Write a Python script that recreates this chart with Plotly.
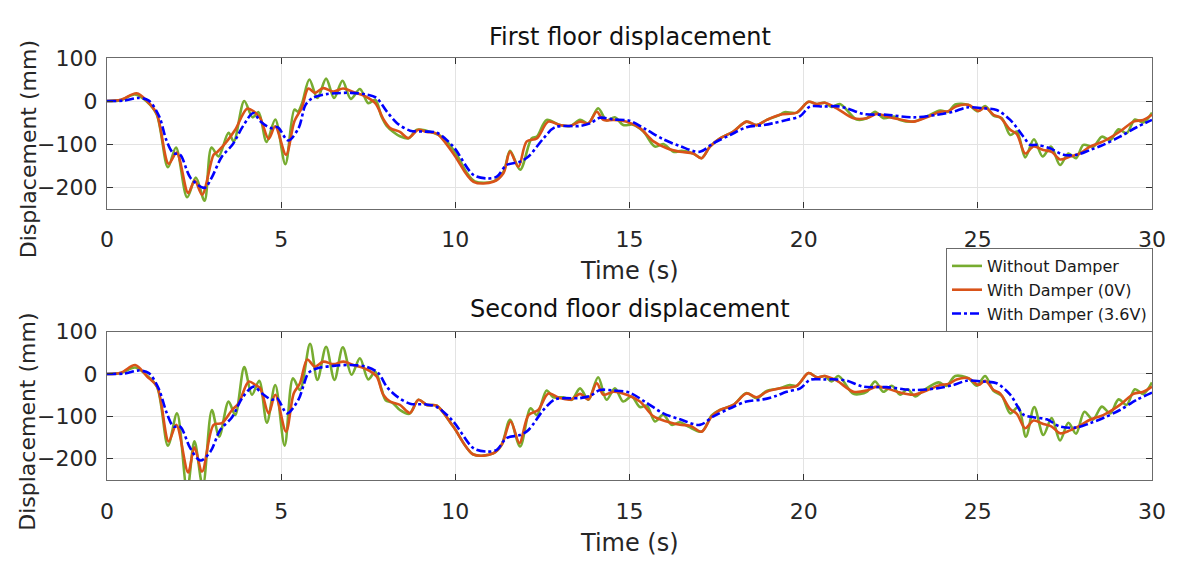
import plotly.graph_objects as go

# ---------------- data (time in s, displacement in mm) ----------------
# First floor
t1_without = [0, 0.4, 0.8, 1.15, 1.43, 1.75, 1.98, 2.3, 2.55, 2.8, 3.0, 3.2, 3.49, 3.64, 3.94, 4.18, 4.35, 4.58, 4.83, 5.12, 5.38, 5.48, 5.6, 5.81, 6.04, 6.29, 6.52, 6.76, 7.0, 7.26, 7.5, 7.7, 7.88, 8.03, 8.22, 8.41, 8.65, 8.9, 9.37, 9.66, 10.04, 10.33, 10.56, 11.09, 11.38, 11.57, 11.86, 12.19, 12.35, 12.62, 13.0, 13.3, 13.58, 13.82, 14.1, 14.34, 14.58, 14.82, 15.1, 15.4, 15.73, 15.97, 16.26, 16.5, 16.83, 17.07, 17.31, 17.6, 17.98, 18.36, 18.65, 18.94, 19.32, 19.45, 19.8, 20.14, 20.38, 20.61, 20.8, 21.04, 21.52, 21.81, 22.05, 22.29, 22.6, 22.77, 23.15, 23.53, 23.92, 24.15, 24.35, 24.73, 25.0, 25.21, 25.45, 25.69, 25.93, 26.12, 26.36, 26.61, 26.86, 27.1, 27.36, 27.6, 27.82, 28.03, 28.32, 28.56, 28.8, 29.04, 29.27, 29.51, 29.75, 30]
d1_without = [0, 2, 15, -2, -32, -154, -108, -224, -178, -232, -108, -129, -74, -94, 0, -38, -26, -95, -43, -147, -20, -25, -5, 50, 7, 52, 7, 47, 5, 28, -5, 3, -36, -58, -72, -82, -87, -67, -74, -86, -125, -167, -187, -187, -165, -116, -160, -87, -82, -44, -56, -58, -44, -52, -17, -45, -38, -56, -55, -71, -106, -100, -118, -116, -122, -133, -106, -87, -71, -48, -56, -44, -32, -26, -27, -2, -7, -4, -14, -7, -43, -40, -25, -40, -36, -44, -48, -36, -22, -25, -8, -9, -24, -12, -34, -40, -79, -71, -131, -89, -129, -106, -149, -122, -133, -102, -106, -83, -91, -66, -75, -43, -50, -27]

t1_damper0 = [0, 0.4, 0.85, 1.15, 1.43, 1.77, 2.0, 2.33, 2.52, 2.73, 3.06, 3.16, 3.44, 3.68, 4.02, 4.21, 4.4, 4.64, 4.83, 5.14, 5.38, 5.59, 5.78, 5.97, 6.21, 6.5, 6.78, 7.07, 7.41, 7.7, 7.94, 8.13, 8.41, 8.65, 8.94, 9.18, 9.47, 9.94, 10.52, 11.09, 11.38, 11.57, 11.81, 12.05, 12.34, 12.67, 13.0, 13.29, 13.58, 13.82, 14.06, 14.25, 14.54, 14.92, 15.3, 15.69, 16.07, 16.45, 16.83, 17.07, 17.31, 17.6, 17.98, 18.36, 18.65, 18.94, 19.32, 19.8, 20.14, 20.38, 20.61, 20.95, 21.43, 21.81, 22.1, 22.38, 22.77, 23.15, 23.53, 23.92, 24.15, 24.39, 24.73, 25.02, 25.21, 25.45, 25.64, 25.93, 26.12, 26.36, 26.6, 26.88, 27.12, 27.36, 27.65, 27.93, 28.22, 28.6, 29.08, 29.47, 29.75, 30]
d1_damper0 = [0, 3, 18, 0, -30, -146, -120, -214, -185, -218, -125, -119, -94, -67, -18, -24, -40, -88, -59, -125, -47, -16, 29, 19, 30, 22, 29, 21, 11, -5, -43, -63, -72, -86, -67, -72, -76, -122, -188, -188, -168, -118, -153, -94, -87, -48, -56, -58, -48, -52, -25, -44, -44, -48, -63, -94, -110, -118, -122, -133, -106, -87, -71, -48, -56, -44, -32, -27, -2, -7, -4, -17, -40, -40, -30, -36, -43, -48, -38, -25, -24, -12, -9, -23, -15, -32, -38, -67, -77, -122, -106, -114, -118, -136, -129, -122, -106, -94, -71, -48, -44, -32]

t1_damper36 = [0, 0.5, 0.9, 1.2, 1.5, 1.7, 1.9, 2.1, 2.4, 2.8, 3.0, 3.3, 3.6, 3.9, 4.2, 4.4, 4.7, 4.9, 5.2, 5.5, 5.7, 5.9, 6.3, 7.0, 7.45, 7.74, 8.03, 8.32, 8.7, 9.1, 9.47, 9.94, 10.52, 10.9, 11.19, 11.47, 11.86, 12.1, 12.53, 12.86, 13.58, 13.87, 14.15, 14.54, 15.0, 15.49, 15.97, 16.45, 17.02, 17.41, 17.89, 18.36, 18.84, 19.1, 19.51, 19.9, 20.18, 20.57, 20.95, 21.24, 21.71, 22.38, 23.15, 23.82, 24.3, 24.68, 25.16, 25.54, 25.93, 26.31, 26.5, 26.69, 27.07, 27.46, 27.84, 28.22, 28.6, 29.08, 29.56, 30]
d1_damper36 = [0, 1, 7, 1, -36, -90, -121, -125, -179, -202, -179, -129, -102, -59, -28, -47, -63, -61, -92, -63, -9, 7, 16, 19, 15, 7, -24, -51, -69, -71, -74, -106, -172, -180, -176, -149, -141, -129, -87, -61, -58, -52, -39, -43, -46, -67, -89, -105, -118, -98, -79, -61, -56, -52, -44, -35, -13, -13, -12, -17, -30, -32, -38, -32, -25, -15, -17, -21, -44, -83, -102, -102, -110, -125, -125, -114, -102, -83, -61, -44]

# Second floor
t2_without = [0, 0.4, 0.81, 1.15, 1.44, 1.75, 2.01, 2.3, 2.51, 2.75, 3.01, 3.22, 3.49, 3.68, 3.94, 4.16, 4.37, 4.59, 4.83, 5.1, 5.34, 5.54, 5.83, 6.04, 6.29, 6.53, 6.77, 7.02, 7.26, 7.5, 7.7, 7.89, 8.0, 8.2, 8.41, 8.68, 8.94, 9.18, 9.47, 9.94, 10.52, 11.09, 11.33, 11.57, 11.86, 12.16, 12.34, 12.62, 12.81, 13.1, 13.34, 13.58, 13.82, 14.1, 14.34, 14.58, 14.82, 15.06, 15.3, 15.5, 15.73, 15.97, 16.21, 16.45, 16.69, 17.07, 17.36, 17.6, 17.98, 18.36, 18.65, 18.94, 19.32, 19.6, 19.8, 20.14, 20.38, 20.61, 20.8, 21.0, 21.43, 21.81, 22.05, 22.29, 22.53, 22.77, 22.98, 23.2, 23.44, 23.87, 24.1, 24.35, 24.73, 24.97, 25.21, 25.45, 25.69, 25.93, 26.16, 26.38, 26.62, 26.88, 27.12, 27.36, 27.6, 27.82, 28.06, 28.3, 28.56, 28.8, 29.04, 29.27, 29.51, 29.75, 30]
d2_without = [0, 2, 15, -4, -31, -169, -93, -275, -159, -265, -85, -148, -65, -97, 16, -49, -16, -115, -26, -169, -10, -38, 71, -14, 64, -14, 63, -2, 37, -13, 5, -38, -62, -68, -85, -94, -61, -73, -75, -124, -190, -187, -167, -108, -171, -81, -97, -39, -55, -55, -61, -34, -61, -8, -61, -34, -65, -53, -78, -75, -112, -96, -120, -114, -124, -136, -98, -85, -73, -45, -57, -40, -34, -26, -28, 2, -8, -5, -18, -5, -47, -42, -18, -42, -28, -49, -36, -53, -39, -20, -28, -5, -10, -28, -5, -40, -52, -93, -78, -148, -78, -144, -104, -157, -115, -141, -89, -108, -77, -93, -60, -73, -36, -47, -20]

t2_damper0 = [0, 0.4, 0.81, 1.15, 1.44, 1.77, 1.99, 2.33, 2.51, 2.73, 3.06, 3.3, 3.59, 3.78, 4.07, 4.26, 4.4, 4.64, 4.83, 5.14, 5.36, 5.54, 5.75, 5.97, 6.21, 6.5, 6.79, 7.07, 7.45, 7.74, 7.93, 8.13, 8.41, 8.7, 8.94, 9.18, 9.47, 9.94, 10.52, 11.09, 11.33, 11.59, 11.84, 12.1, 12.38, 12.67, 13.0, 13.34, 13.58, 13.82, 14.06, 14.25, 14.54, 14.92, 15.3, 15.69, 16.07, 16.45, 16.74, 17.07, 17.36, 17.6, 17.98, 18.36, 18.65, 18.94, 19.32, 19.8, 20.14, 20.38, 20.61, 20.95, 21.43, 21.81, 22.1, 22.38, 22.77, 23.15, 23.53, 23.92, 24.15, 24.39, 24.73, 25.02, 25.21, 25.45, 25.64, 25.93, 26.12, 26.36, 26.6, 26.88, 27.12, 27.36, 27.65, 27.93, 28.22, 28.6, 29.08, 29.47, 29.75, 30]
d2_damper0 = [0, 3, 21, -6, -30, -159, -120, -232, -173, -230, -120, -116, -85, -69, -18, -26, -34, -93, -49, -136, -46, -22, 34, 17, 29, 23, 29, 21, 11, -6, -49, -65, -73, -92, -61, -73, -75, -124, -190, -187, -167, -112, -163, -97, -85, -46, -57, -60, -47, -60, -22, -49, -42, -49, -65, -100, -112, -120, -122, -136, -100, -85, -73, -46, -55, -42, -34, -28, 2, -8, -5, -16, -42, -39, -30, -34, -44, -49, -39, -26, -24, -13, -10, -26, -16, -38, -46, -83, -94, -128, -110, -118, -124, -140, -133, -122, -108, -97, -73, -47, -42, -30]

t2_damper36 = [0, 0.5, 0.91, 1.2, 1.48, 1.72, 1.91, 2.1, 2.39, 2.68, 2.97, 3.25, 3.59, 3.88, 4.21, 4.45, 4.74, 4.88, 5.17, 5.5, 5.65, 5.78, 6.02, 6.5, 6.98, 7.45, 7.79, 8.03, 8.32, 8.7, 9.17, 9.47, 9.94, 10.52, 10.9, 11.19, 11.47, 11.86, 12.1, 12.53, 12.86, 13.58, 13.87, 14.15, 14.54, 15.0, 15.49, 15.97, 16.45, 17.02, 17.41, 17.89, 18.36, 18.84, 19.2, 19.51, 19.9, 20.18, 20.57, 20.95, 21.24, 21.71, 22.38, 23.15, 23.82, 24.3, 24.68, 25.16, 25.54, 25.93, 26.31, 26.6, 26.98, 27.36, 27.84, 28.22, 28.6, 29.08, 29.56, 30]
d2_damper36 = [0, 1, 8, 2, -34, -93, -124, -124, -175, -204, -183, -132, -102, -57, -30, -46, -61, -57, -93, -60, -25, 2, 13, 19, 21, 17, 2, -30, -53, -70, -72, -78, -112, -175, -183, -179, -151, -144, -132, -85, -60, -57, -52, -38, -39, -44, -68, -93, -107, -120, -100, -81, -65, -60, -52, -42, -34, -14, -13, -13, -16, -30, -31, -38, -34, -26, -16, -18, -22, -49, -96, -102, -107, -124, -126, -116, -104, -85, -61, -44]

series_names = ["Without Damper", "With Damper (0V)", "With Damper (3.6V)"]
subplot_titles = ["First floor displacement", "Second floor displacement"]
x_ticks = [0, 5, 10, 15, 20, 25, 30]
y_ticks = [-200, -100, 0, 100]

# ---------------- styles ----------------
colors = ["#77AC30", "#D95319", "#0000FF"]
dashes = ["solid", "solid", "dashdot"]
widths = [2.6, 2.6, 2.6]
FONT = "DejaVu Sans, Liberation Sans, Arial, sans-serif"
W, H = 1179, 563

fig = go.Figure()
floors = [
    [(t1_without, d1_without), (t1_damper0, d1_damper0), (t1_damper36, d1_damper36)],
    [(t2_without, d2_without), (t2_damper0, d2_damper0), (t2_damper36, d2_damper36)],
]
for fi, floor in enumerate(floors):
    xa = "x" if fi == 0 else "x2"
    ya = "y" if fi == 0 else "y2"
    for si, (t, d) in enumerate(floor):
        fig.add_trace(go.Scatter(
            x=t, y=d, mode="lines", name=series_names[si],
            showlegend=(fi == 0), xaxis=xa, yaxis=ya,
            line=dict(color=colors[si], width=widths[si], dash=dashes[si],
                      shape="spline", smoothing=0.9),
        ))

# pixel layout
x_left, x_right = 107, 1152
top_box = (58, 208.5)
bot_box = (331.5, 480)

def py(p):
    return 1 - p / H

axis_common = dict(
    showline=True, mirror="ticks", linecolor="#6b6b6b", linewidth=1.3,
    ticks="inside", ticklen=6, tickcolor="#333333", tickwidth=1,
    showgrid=True, gridcolor="#e3e3e3", gridwidth=1, zeroline=False,
    automargin=False,
    tickfont=dict(family=FONT, size=22, color="#262626"),
)

fig.update_layout(
    template="none",
    width=W, height=H, margin=dict(l=0, r=0, t=0, b=0, pad=0, autoexpand=False),
    paper_bgcolor="white", plot_bgcolor="white",
    xaxis=dict(domain=[x_left / W, x_right / W], range=[0, 30], tickvals=x_ticks,
               anchor="y", ticklabelstandoff=11, **axis_common),
    yaxis=dict(domain=[py(top_box[1]), py(top_box[0])], range=[-250, 100],
               tickvals=y_ticks, anchor="x", ticklabelstandoff=4, **axis_common),
    xaxis2=dict(domain=[x_left / W, x_right / W], range=[0, 30], tickvals=x_ticks,
                anchor="y2", ticklabelstandoff=11, **axis_common),
    yaxis2=dict(domain=[py(bot_box[1]), py(bot_box[0])], range=[-250, 100],
                tickvals=y_ticks, anchor="x2", ticklabelstandoff=4, **axis_common),
    legend=dict(x=946 / W, y=py(248), xanchor="left", yanchor="top",
                bgcolor="white", bordercolor="#6b6b6b", borderwidth=1,
                font=dict(family=FONT, size=16, color="#1a1a1a"),
                tracegroupgap=0, itemwidth=30),
)

ann = []
cx = (x_left + x_right) / 2
for i, (box, title_y, xlab_y) in enumerate([(top_box, 37, 271), (bot_box, 309, 543)]):
    ann.append(dict(text=subplot_titles[i], x=cx / W, y=py(title_y), xref="paper", yref="paper",
                    showarrow=False, xanchor="center", yanchor="middle",
                    font=dict(family=FONT, size=24, color="#111111")))
    ann.append(dict(text="Time (s)", x=cx / W, y=py(xlab_y), xref="paper", yref="paper",
                    showarrow=False, xanchor="center", yanchor="middle",
                    font=dict(family=FONT, size=24, color="#262626")))
    ann.append(dict(text="Displacement (mm)", x=28 / W, y=py((box[0] + box[1]) / 2 + 16),
                    xref="paper", yref="paper", showarrow=False, textangle=-90,
                    xanchor="center", yanchor="middle",
                    font=dict(family=FONT, size=22, color="#262626")))
fig.update_layout(annotations=ann)

fig.write_html("out.html")
